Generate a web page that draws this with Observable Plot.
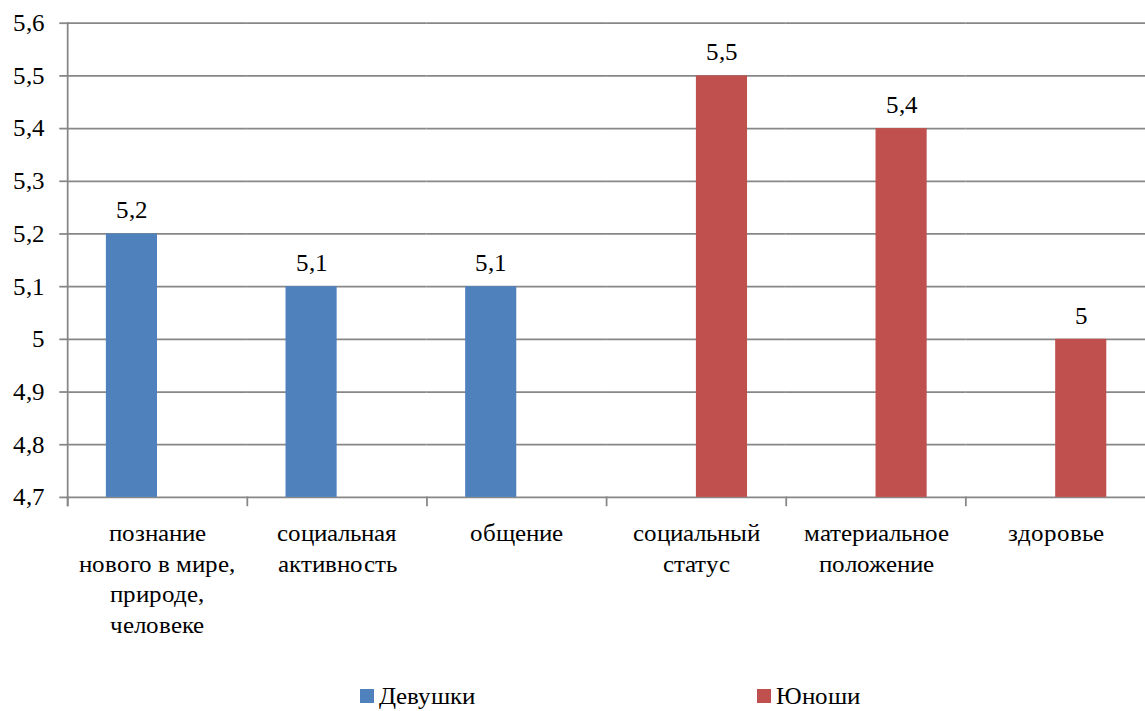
<!DOCTYPE html>
<html><head><meta charset="utf-8">
<script src="https://cdn.jsdelivr.net/npm/d3@7"></script>
<script src="https://cdn.jsdelivr.net/npm/@observablehq/plot@0.6"></script>
<style>
@font-face{font-family:"XSerif";src:local("Liberation Serif"),local("LiberationSerif"),local("LiberationSerif-Regular");}
html,body{margin:0;padding:0;background:#fff;overflow:hidden;width:1145px;height:711px;}
#chart{position:absolute;left:0;top:0;}
.legend{position:absolute;top:682px;font-size:25px;color:#000;display:flex;align-items:center;white-space:nowrap;line-height:28px;}
.sw{width:14px;height:14px;margin-right:5px;display:inline-block;}
</style></head><body>
<div id="chart"></div>
<div class="legend" style="left:360px;font-family:XSerif"><span class="sw" style="background:#4f81bd"></span>Девушки</div>
<div class="legend" style="left:757px;font-family:XSerif"><span class="sw" style="background:#c0504d"></span>Юноши</div>
<script>
const categories = ["познание\nнового в мире,\nприроде,\nчеловеке","социальная\nактивность","общение","социальный\nстатус","материальное\nположение","здоровье"];
const series = ["Девушки","Юноши"];
const girls = [5.2, 5.1, 5.1, null, null, null];
const boys = [null, null, null, 5.5, 5.4, 5.0];
const colors = ["#4f81bd","#c0504d"];
const yTicks = [4.7,4.8,4.9,5.0,5.1,5.2,5.3,5.4,5.5,5.6];
const yMin = 4.7, yMax = 5.6;

const rows = [];
categories.forEach((c,i)=>{
  if (girls[i] != null) rows.push({cat:c, series:series[0], value:girls[i]});
  if (boys[i] != null) rows.push({cat:c, series:series[1], value:boys[i]});
});
const fmt = d => String(+(+d).toFixed(1)).replace(".", ",");

const W=1159, H=672, mT=23, mB=169, mL=68, mR=0;
const plotH = H-mT-mB;
const grid = "#878787";
const fontName = "XSerif";

const chart = Plot.plot({
  width:W, height:H, marginTop:mT, marginBottom:mB, marginLeft:mL, marginRight:mR,
  style:{fontFamily:fontName, fontSize:"25px", color:"#000", background:"#fff", overflow:"visible"},
  fx:{domain:categories, padding:0, round:false, label:null},
  x:{domain:series, paddingInner:0, paddingOuter:0.757, round:false, axis:null},
  y:{domain:[yMin,yMax], label:null},
  color:{domain:series, range:colors},
  marks:[
    Plot.ruleY(yTicks, {stroke:grid, strokeWidth:1.8}),
    Plot.frame({anchor:"left", facetAnchor:"left", stroke:grid, strokeWidth:1.8, insetBottom:-8}),
    Plot.frame({anchor:"left", stroke:grid, strokeWidth:1.8, insetTop:plotH, insetBottom:-8}),
    Plot.axisY({ticks:yTicks, tickFormat:fmt, tickSize:8, tickPadding:15, stroke:grid, strokeWidth:1.8, label:null, fontSize:25, fontFamily:fontName}),
    Plot.axisFx({anchor:"bottom", tickSize:0, tickPadding:22, lineHeight:1.24, label:null, fontSize:25, fontFamily:fontName}),
    Plot.barY(rows, {fx:"cat", x:"series", y1:yMin, y2:"value", fill:"series"}),
    Plot.text(rows, {fx:"cat", x:"series", y:"value", text:d=>fmt(d.value), lineAnchor:"bottom", dy:-16, fontSize:25, fontFamily:fontName})
  ]
});
chart.querySelectorAll("text").forEach(t => t.setAttribute("font-family", fontName));
document.getElementById("chart").appendChild(chart);
</script>
</body></html>
